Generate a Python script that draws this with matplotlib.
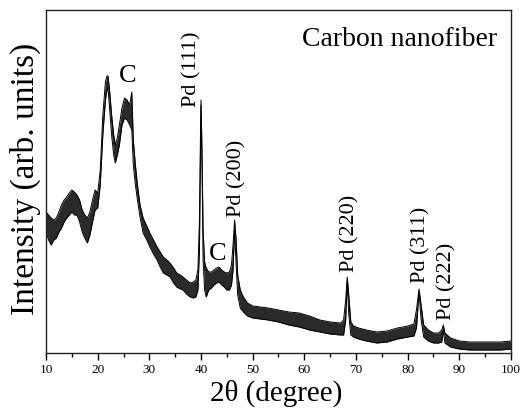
import matplotlib
matplotlib.use("Agg")
import matplotlib.pyplot as plt
from matplotlib.ticker import MultipleLocator

plt.rcParams['font.family'] = ['Liberation Serif', 'DejaVu Serif']

# 2-theta positions (degree) and the upper / lower edge of the noisy trace (arb. units)
two_theta = [10.0, 10.5, 11.0, 11.5, 12.0, 12.5, 13.0, 13.5, 14.0, 14.5, 15.0, 15.5, 16.0,
             16.5, 17.0, 17.5, 18.0, 18.5, 19.0, 19.5, 20.0, 20.5, 21.0, 21.5, 21.8, 22.0,
             22.3, 22.7, 23.1, 23.4, 23.8, 24.2, 24.7, 25.2, 25.7, 26.2, 26.6, 26.9, 27.3,
             27.7, 28.2, 28.8, 29.5, 30.1, 30.8, 31.5, 32.1, 32.7, 33.4, 34.0, 34.7, 35.3,
             36.0, 36.5, 37.2, 37.9, 38.5, 39.0, 39.4, 39.7, 39.9, 40.0, 40.2, 40.4, 40.7,
             41.0, 41.5, 42.0, 42.5, 43.0, 43.5, 44.0, 44.5, 45.0, 45.5, 45.9, 46.2, 46.5,
             46.8, 47.1, 47.6, 48.2, 49.0, 50.0, 51.5, 53.0, 55.0, 57.0, 59.0, 61.0, 63.0,
             65.0, 67.0, 67.6, 68.0, 68.3, 68.6, 69.0, 69.5, 70.5, 72.0, 74.0, 76.0, 78.0,
             80.0, 81.2, 81.7, 82.2, 82.6, 83.1, 84.0, 85.0, 86.0, 86.6, 86.9, 87.2, 88.3,
             90.0, 92.0, 94.0, 96.0, 98.0, 100.0]
intensity_hi = [141, 138, 135, 133, 135, 141, 148, 153, 156, 160, 163, 161, 158,
                153, 143, 138, 135, 141, 153, 163, 160, 183, 238, 271, 277, 277,
                263, 238, 218, 208, 215, 228, 245, 255, 253, 248, 261, 213, 188,
                168, 148, 135, 127, 120, 113, 106, 101, 96, 93, 90, 85, 80,
                78, 76, 73, 70, 71, 73, 83, 133, 220, 253, 200, 123, 91,
                85, 81, 81, 83, 85, 86, 83, 81, 80, 81, 88, 108, 133,
                113, 78, 63, 56, 50, 47, 46, 45, 43, 41, 40, 37, 33,
                31, 30, 33, 53, 76, 58, 31, 27, 25, 23, 21, 22, 25,
                27, 29, 43, 64, 48, 28, 23, 20, 20, 23, 28, 20, 15,
                12, 11, 11, 11, 11, 12]
intensity_lo = [121, 113, 108, 113, 115, 121, 125, 131, 135, 138, 141, 138, 138,
                131, 121, 115, 110, 118, 131, 143, 145, 168, 218, 253, 263, 265,
                245, 218, 198, 190, 198, 208, 228, 235, 233, 228, 223, 188, 168,
                153, 136, 120, 113, 106, 99, 93, 86, 80, 78, 76, 70, 66,
                64, 63, 59, 56, 55, 56, 63, 103, 200, 248, 185, 93, 63,
                56, 63, 65, 68, 70, 71, 68, 66, 63, 63, 68, 83, 123,
                88, 58, 45, 41, 37, 35, 34, 33, 31, 28, 26, 23, 21,
                19, 18, 18, 33, 71, 38, 18, 16, 14, 12, 10, 11, 14,
                16, 17, 25, 61, 33, 16, 12, 10, 10, 11, 23, 10, 6,
                4, 3, 3, 3, 3, 4]

# peak annotations: text, x (deg), bottom of text (arb. units), rotation
peak_labels = ["C", "Pd (111)", "Pd (200)", "C", "Pd (220)", "Pd (311)", "Pd (222)"]
label_x = [25.9, 38.3, 47.0, 43.3, 68.9, 82.6, 87.5]
label_y = [266, 246, 136, 88, 81, 70, 33]
label_rot = [0, 90, 90, 0, 90, 90, 90]

fig = plt.figure(figsize=(5.22, 4.08), dpi=100)
ax = fig.add_axes([46/522, 1-353/408, (511-46)/522, (353-10)/408])

ax.fill_between(two_theta, intensity_lo, intensity_hi, color='#2a2a2a', linewidth=0)
ax.plot(two_theta, intensity_hi, color='black', linewidth=0.7)
ax.plot(two_theta, intensity_lo, color='black', linewidth=0.7)

ax.set_xlim(10, 100)
ax.set_ylim(0, 343)
ax.xaxis.set_major_locator(MultipleLocator(10))
ax.xaxis.set_minor_locator(MultipleLocator(5))
ax.tick_params(axis='x', which='major', direction='out', length=5, width=1, labelsize=9.5, pad=3)
ax.tick_params(axis='x', which='minor', direction='out', length=3, width=1)
ax.set_yticks([])
for s in ax.spines.values():
    s.set_linewidth(1.0)
    s.set_color('#222222')

for t, x, y, r in zip(peak_labels, label_x, label_y, label_rot):
    if r == 0:
        ax.text(x, y, t, fontsize=19, ha='center', va='bottom')
    else:
        ax.text(x, y, t, fontsize=16, rotation=90, ha='center', va='bottom')

ax.text(0.97, 0.95, "Carbon nanofiber", transform=ax.transAxes, fontsize=20,
        ha='right', va='top')

fig.text(276/522, 1-401/408, "2θ (degree)", fontsize=21, ha='center', va='baseline')
fig.text(25/522, 1-179/408, "Intensity (arb. units)", fontsize=24, rotation=90,
         ha='center', va='center')

fig.savefig("out.png", dpi=100)
